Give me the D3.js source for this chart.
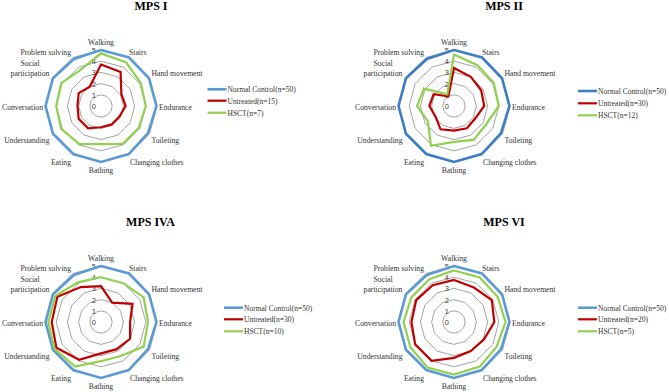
<!DOCTYPE html>
<html>
<head>
<meta charset="utf-8">
<script src="https://cdn.jsdelivr.net/npm/d3@7"></script>
<style>
    body { margin: 0; background: #fff; }
    svg { display: block; }
    .title { font-family: "Liberation Serif", "Times New Roman", serif; font-size: 12px; font-weight: bold; fill: #000; }
    .axis-label { font-family: "Liberation Serif", "Times New Roman", serif; font-size: 7.7px; fill: #333; }
    .legend-label { font-family: "Liberation Serif", "Times New Roman", serif; font-size: 7.5px; fill: #333; }
    .tick-label { font-family: "Liberation Sans", Arial, sans-serif; font-size: 7.5px; fill: #404040; }
</style>
</head>
<body>
<svg id="chart"></svg>
<script>
// Axes of the radar, clockwise from the top
const skills = ['Walking', 'Stairs', 'Hand movement', 'Endurance', 'Toileting', 'Changing clothes',
    'Bathing', 'Eating', 'Understanding', 'Conversation', 'Social participation', 'Problem solving'];
const tickValues = [0, 1, 2, 3, 4, 5];

const panelTitles = ['MPS I', 'MPS II', 'MPS IVA', 'MPS VI'];
const seriesNames = ['Normal Control', 'Untreated', 'HSCT'];
const normalCounts = [50, 50, 50, 50];
const untreatedCounts = [15, 30, 30, 20];
const hsctCounts = [7, 12, 10, 5];

// Normal control group is shared by all four panels
const normalControl = [5.0, 5.0, 4.95, 4.95, 4.85, 4.95, 5.0, 4.95, 4.95, 4.95, 4.95, 4.85];

const untreatedMPS1 = [3.7, 3.5, 2.1, 2.2, 1.9, 1.9, 1.9, 2.3, 2.3, 2.1, 2.3, 2.0];
const hsctMPS1 = [4.7, 4.5, 4.1, 4.0, 3.9, 3.9, 3.4, 3.9, 4.1, 4.0, 4.1, 3.7];

const untreatedMPS2 = [3.4, 3.0, 2.8, 2.7, 2.2, 2.3, 2.2, 2.4, 1.9, 2.2, 2.1, 1.0];
const hsctMPS2 = [4.6, 4.2, 4.1, 4.0, 3.3, 3.5, 3.2, 4.1, 2.7, 3.3, 3.1, 1.2];

const untreatedMPS4A = [3.2, 2.0, 3.25, 2.6, 3.0, 2.8, 2.8, 3.9, 4.6, 4.4, 4.5, 3.6];
const hsctMPS4A = [4.0, 4.0, 4.4, 4.2, 4.4, 3.5, 3.5, 4.6, 4.8, 4.7, 4.7, 4.1];

const untreatedMPS6 = [3.75, 3.55, 3.9, 3.6, 3.1, 3.0, 3.2, 4.0, 4.0, 3.8, 3.9, 3.8];
const hsctMPS6 = [4.6, 4.6, 4.5, 4.6, 4.4, 4.6, 4.7, 4.7, 4.5, 4.5, 4.4, 4.4];

class RadarChart {
    /**
     * One radar panel with its title and legend
     */
    constructor(_config, _data) {
        this.config = {
            parent: _config.parent,
            cx: _config.cx,
            cy: _config.cy,
            radius: _config.radius || 56,
            title: _config.title,
            titleX: _config.titleX,
            titleY: _config.titleY,
            legendX: _config.legendX,
            legendY: _config.legendY,
            legendLabels: _config.legendLabels,
            colors: _config.colors,
            widths: _config.widths || [2.6, 2.2, 2.2]
        }
        this.data = _data;
        this.initVis();
    }

    initVis() {
        let vis = this;

        vis.rScale = d3.scaleLinear()
            .domain([0, 5])
            .range([0, vis.config.radius]);

        vis.angleScale = d3.scaleLinear()
            .domain([0, skills.length])
            .range([0, 2 * Math.PI]);

        vis.chart = vis.config.parent.append('g')
            .attr('transform', `translate(${vis.config.cx},${vis.config.cy})`);

        vis.line = d3.lineRadial()
            .angle((d, i) => vis.angleScale(i))
            .radius(d => vis.rScale(d))
            .curve(d3.curveLinearClosed);

        // Gridline polygons
        vis.chart.selectAll('.grid')
            .data(tickValues.slice(1))
            .join('path')
            .attr('class', 'grid')
            .attr('d', t => vis.line(skills.map(() => t)))
            .attr('fill', 'none')
            .attr('stroke', '#8c8c8c')
            .attr('stroke-width', 0.8);

        // Tick numbers on the Walking axis
        vis.chart.selectAll('.tick-label')
            .data(tickValues)
            .join('text')
            .attr('class', 'tick-label')
            .attr('x', -5)
            .attr('y', t => -vis.rScale(t) + 3)
            .attr('text-anchor', 'end')
            .text(t => t);

        vis.renderVis();
        vis.renderLabels();
        vis.renderLegend();

        vis.config.parent.append('text')
            .attr('class', 'title')
            .attr('x', vis.config.titleX)
            .attr('y', vis.config.titleY)
            .attr('text-anchor', 'middle')
            .text(vis.config.title);
    }

    renderVis() {
        let vis = this;

        vis.chart.selectAll('.series')
            .data(vis.data)
            .join('path')
            .attr('class', 'series')
            .attr('d', d => vis.line(d))
            .attr('fill', 'none')
            .attr('stroke', (d, i) => vis.config.colors[i])
            .attr('stroke-width', (d, i) => vis.config.widths[i])
            .attr('stroke-linejoin', 'miter');
    }

    renderLabels() {
        let vis = this;
        const R = vis.config.radius;

        // anchor and offsets from the outer vertex of each axis
        const placement = [
            ['middle', 0, -8], ['start', 0, -6], ['start', 2, -5], ['start', 2, 1],
            ['start', 2, 6], ['start', 1, 8], ['middle', 0, 8], ['end', -2, 8],
            ['end', -3, 6], ['end', -2, 1], ['middle', -22.5, -10], ['end', -2, -6]
        ];

        skills.forEach((s, i) => {
            const a = vis.angleScale(i);
            const x = R * Math.sin(a) + placement[i][1];
            const y = -R * Math.cos(a) + placement[i][2];
            const lines = s === 'Social participation' ? ['Social', 'participation'] : [s];
            const text = vis.chart.append('text')
                .attr('class', 'axis-label')
                .attr('text-anchor', placement[i][0]);
            lines.forEach((l, j) => {
                text.append('tspan')
                    .attr('x', x)
                    .attr('y', y + 3 + (j - (lines.length - 1) / 2) * 10)
                    .text(l);
            });
        });
    }

    renderLegend() {
        let vis = this;
        const lx = vis.config.legendX;

        const rows = vis.config.parent.append('g')
            .selectAll('g')
            .data(vis.config.legendLabels)
            .join('g')
            .attr('transform', (d, i) => `translate(${lx},${vis.config.legendY[i]})`);

        rows.append('line')
            .attr('x1', 0)
            .attr('x2', 19)
            .attr('stroke', (d, i) => vis.config.colors[i])
            .attr('stroke-width', (d, i) => vis.config.widths[i]);

        rows.append('text')
            .attr('class', 'legend-label')
            .attr('x', 20)
            .attr('y', 3)
            .text(d => d);
    }
}

const svg = d3.select('#chart')
    .attr('width', 669)
    .attr('height', 392);

const panels = [
    {cx: 101, cy: 106, titleX: 151, titleY: 9.5, legendX: 207.5, legendY: [89.3, 100.7, 112.7],
        blue: '#5b9bd5', data: [normalControl, untreatedMPS1, hsctMPS1]},
    {cx: 454, cy: 106, titleX: 504, titleY: 9.5, legendX: 578, legendY: [91, 103.3, 115.3],
        blue: '#3c7dc4', data: [normalControl, untreatedMPS2, hsctMPS2]},
    {cx: 101, cy: 322, titleX: 150.5, titleY: 225.5, legendX: 224, legendY: [307.7, 319.3, 331.3],
        blue: '#5b9bd5', data: [normalControl, untreatedMPS4A, hsctMPS4A]},
    {cx: 454, cy: 322, titleX: 504, titleY: 225.5, legendX: 578, legendY: [307.7, 319.3, 331.3],
        blue: '#5b9bd5', data: [normalControl, untreatedMPS6, hsctMPS6]}
];

panels.forEach((p, i) => {
    new RadarChart({
        parent: svg,
        cx: p.cx,
        cy: p.cy,
        title: panelTitles[i],
        titleX: p.titleX,
        titleY: p.titleY,
        legendX: p.legendX,
        legendY: p.legendY,
        legendLabels: [
            `${seriesNames[0]}(n=${normalCounts[i]})`,
            `${seriesNames[1]}(n=${untreatedCounts[i]})`,
            `${seriesNames[2]}(n=${hsctCounts[i]})`
        ],
        colors: [p.blue, '#c00000', '#92d050']
    }, p.data);
});
</script>
</body>
</html>
